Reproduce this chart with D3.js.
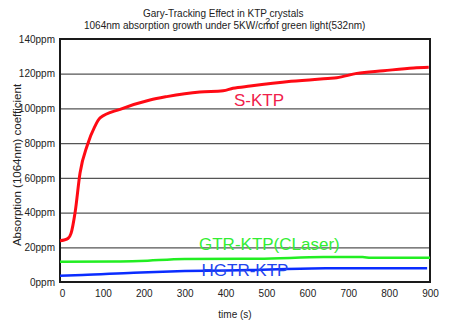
<!DOCTYPE html>
<html>
<head>
<meta charset="utf-8">
<script src="https://cdn.jsdelivr.net/npm/d3@7"></script>
<style>
  html, body { margin: 0; padding: 0; background: #fff; }
  svg text { font-family: "Liberation Sans", Arial, sans-serif; }
</style>
</head>
<body>
<div id="chart"></div>
<script>
// absorption (ppm) vs time (s) for three crystal grades
var sKtp = [[-5, 23.8], [5, 24.2], [15, 25.2], [22, 28], [32, 40.2], [44, 62.8], [62, 78.9],
            [80, 89.5], [93, 94.5], [142, 99.5], [215, 104.9], [256, 106.8], [337, 109.5],
            [394, 110.2], [418, 111.6], [460, 112.9], [560, 115.6], [650, 117.3], [672, 117.7],
            [721, 120.2], [786, 121.7], [860, 123.3], [897, 123.7]];
var gtrKtp = [[-5, 11.7], [130, 11.8], [190, 12.1], [300, 13.3], [480, 13.4], [640, 14.4],
              [735, 14.4], [755, 13.9], [900, 13.9]];
var hgtrKtp = [[-5, 3.6], [50, 4], [175, 5.4], [300, 6.3], [460, 6.9], [645, 7.9], [893, 7.9]];

var xTicks = [0, 100, 200, 300, 400, 500, 600, 700, 800, 900];
var yTicks = [0, 20, 40, 60, 80, 100, 120, 140];

var W = 454, H = 325;
var svg = d3.select("#chart").append("svg")
    .attr("width", W)
    .attr("height", H);

var x = d3.scaleLinear().domain([-5, 900]).range([60, 430]);
var y = d3.scaleLinear().domain([0, 140]).range([282, 39]);

// titles
svg.append("text")
    .attr("x", 143).attr("y", 17)
    .attr("font-size", 10).attr("fill", "#222")
    .text("Gary-Tracking Effect in KTP crystals");
var t2 = svg.append("text")
    .attr("x", 84).attr("y", 28.5)
    .attr("font-size", 10).attr("fill", "#222");
t2.append("tspan").text("1064nm absorption growth under 5KW/cm");
t2.append("tspan").attr("dx", -6).attr("dy", -5).attr("font-size", 9).text("2");
t2.append("tspan").attr("dy", 5).text("of green light(532nm)");

// gridlines + y labels
var yAxis = svg.append("g")
    .attr("transform", "translate(60,0)")
    .call(d3.axisLeft(y).tickValues(yTicks).tickSize(-370).tickPadding(5)
      .tickFormat(function(d) { return d + "ppm"; }));
yAxis.select(".domain").remove();
yAxis.selectAll(".tick line").attr("stroke", "#555").attr("stroke-width", 1.2);
yAxis.selectAll(".tick text")
    .attr("font-size", 10).attr("fill", "#222")
    .attr("font-family", "Liberation Sans, Arial, sans-serif");

// x labels
var xAxis = svg.append("g")
    .attr("transform", "translate(0,282)")
    .call(d3.axisBottom(x).tickValues(xTicks).tickSize(0).tickPadding(8));
xAxis.select(".domain").remove();
xAxis.selectAll(".tick text")
    .attr("font-size", 10).attr("fill", "#222")
    .attr("font-family", "Liberation Sans, Arial, sans-serif");

// frame
svg.append("rect")
    .attr("x", x.range()[0]).attr("y", y.range()[1])
    .attr("width", x.range()[1] - x.range()[0])
    .attr("height", y.range()[0] - y.range()[1])
    .attr("fill", "none").attr("stroke", "#1a1a1a").attr("stroke-width", 2);

// axis titles
svg.append("text")
    .attr("x", 235).attr("y", 318)
    .attr("text-anchor", "middle")
    .attr("font-size", 10).attr("fill", "#222")
    .text("time (s)");
svg.append("text")
    .attr("transform", "translate(21,165) rotate(-90)")
    .attr("text-anchor", "middle")
    .attr("font-size", 11.5).attr("fill", "#222")
    .text("Absorption (1064nm) coefficient");

// series
var line = d3.line()
    .x(function(d) { return x(d[0]); })
    .y(function(d) { return y(d[1]); })
    .curve(d3.curveMonotoneX);

var series = [
  { data: gtrKtp, color: "#22ee22", w: 2.5 },
  { data: hgtrKtp, color: "#0a2cff", w: 2.5 },
  { data: sKtp, color: "#ff0a14", w: 3 }
];
series.forEach(function(s) {
  svg.append("path")
      .datum(s.data)
      .attr("d", line)
      .attr("fill", "none")
      .attr("stroke", s.color)
      .attr("stroke-width", s.w)
      .attr("stroke-linejoin", "round");
});

// series labels
var labels = [
  { text: "S-KTP", x: 234, y: 106, color: "#f0204a" },
  { text: "GTR-KTP(CLaser)", x: 199, y: 250, color: "#33ee33" },
  { text: "HGTR-KTP", x: 201.5, y: 275.7, color: "#2244ee" }
];
labels.forEach(function(l) {
  svg.append("text")
      .attr("x", l.x).attr("y", l.y)
      .attr("font-size", 17)
      .attr("fill", l.color)
      .text(l.text);
});
</script>
</body>
</html>
